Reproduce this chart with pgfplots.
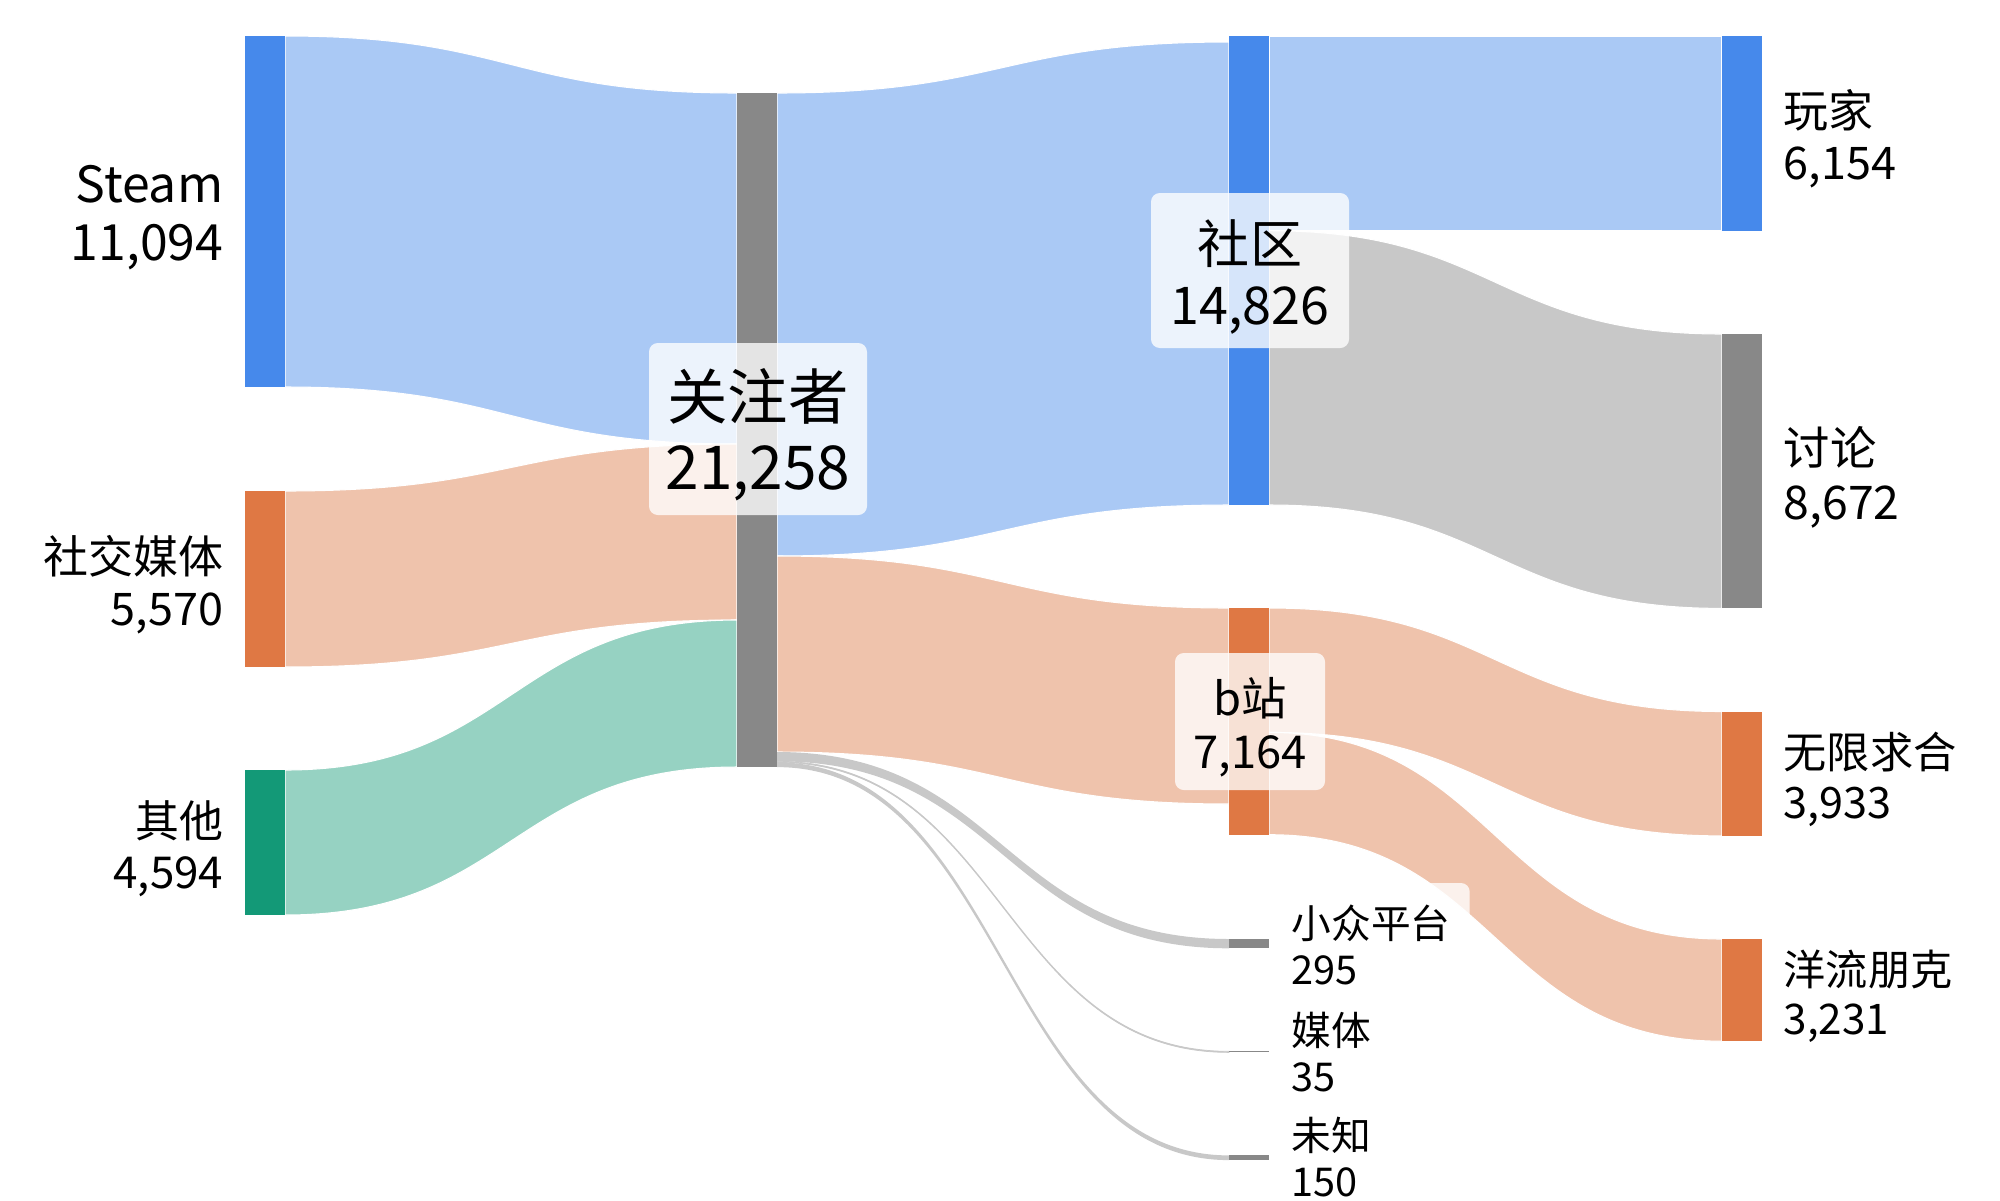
\documentclass[border=0pt]{standalone}
\usepackage{pgfplots}
\pgfplotsset{compat=1.18}
\usepackage{fontspec}
\setmainfont{Noto Sans CJK SC}
\definecolor{nblue}{HTML}{4689EB}
\definecolor{lblue}{HTML}{AAC9F5}
\definecolor{nora}{HTML}{DF7844}
\definecolor{lora}{HTML}{EFC3AC}
\definecolor{nteal}{HTML}{139977}
\definecolor{lteal}{HTML}{96D2C2}
\definecolor{ngray}{HTML}{888888}
\definecolor{lgray}{HTML}{C8C8C8}
% link: style, x0, top0, bottom0, x1, top1, bottom1, xmid
\newcommand{\link}[8]{%
  \fill[#1] (axis cs:#2,#3) .. controls (axis cs:#8,#3) and (axis cs:#8,#6) .. (axis cs:#5,#6)
    -- (axis cs:#5,#7) .. controls (axis cs:#8,#7) and (axis cs:#8,#4) .. (axis cs:#2,#4) -- cycle;}
\newcommand{\fs}[1]{\fontsize{#1pt}{1.16\dimexpr#1pt\relax}\selectfont}
\tikzset{
  band/.style={fill=#1, draw=white, line width=0.3pt},
  thin/.style={fill=#1, draw=none},
  hair/.style={fill=#1, draw=#1, line width=0.2pt},
  lbox/.style={fill=white, fill opacity=0.78, text opacity=1, rounded corners=2.5pt,
    inner sep=0pt},
  lab/.style={inner sep=0pt, align=center},
}
\begin{document}
\begin{tikzpicture}
\begin{axis}[width=20cm, height=12cm, scale only axis,
  xmin=0, xmax=2000, ymin=0, ymax=1200, y dir=reverse,
  hide axis, clip=false]
\addplot[draw=none, forget plot] coordinates {(0,0) (2000,1200)};
% ---- links: sources -> 关注者
\link{band=lblue}{285}{36}{387}{737}{93}{444}{511}
\link{band=lora}{285}{491}{667}{737}{444}{620}{511}
\link{band=lteal}{285}{770}{915}{737}{620}{767}{511}
% ---- 关注者 -> column 3
\link{band=lblue}{777}{93}{556}{1229}{42}{505}{1003}
\link{band=lora}{777}{556}{752}{1229}{608}{804}{1003}
\link{thin=lgray}{777}{752}{761.3}{1229}{939}{948.3}{1003}
\link{hair=lgray}{777}{761.3}{762.4}{1229}{1051.3}{1052.4}{1003}
\link{thin=lgray}{777}{762.4}{767.1}{1229}{1155.4}{1160.1}{1003}
% ---- column 3 -> column 4
\link{band=lblue}{1269}{36}{230.7}{1722}{36}{230.7}{1495.5}
\link{band=lgray}{1269}{230.7}{505}{1722}{334}{608.4}{1495.5}
\link{band=lora}{1269}{608}{732.4}{1722}{711.5}{835.9}{1495.5}
\link{band=lora}{1269}{732.4}{834.7}{1722}{939}{1041.2}{1495.5}
% ---- nodes
\addplot[fill=nblue, draw=none] coordinates {(245,36) (285,36) (285,387) (245,387)};
\addplot[fill=nora, draw=none] coordinates {(245,491) (285,491) (285,667) (245,667)};
\addplot[fill=nteal, draw=none] coordinates {(245,770) (285,770) (285,915) (245,915)};
\addplot[fill=ngray, draw=none] coordinates {(737,93) (777,93) (777,767) (737,767)};
\addplot[fill=nblue, draw=none] coordinates {(1229,36) (1269,36) (1269,505) (1229,505)};
\addplot[fill=nora, draw=none] coordinates {(1229,608) (1269,608) (1269,834.7) (1229,834.7)};
\addplot[fill=ngray, draw=none] coordinates {(1229,939) (1269,939) (1269,948.3) (1229,948.3)};
\addplot[fill=ngray, draw=none] coordinates {(1229,1051.3) (1269,1051.3) (1269,1052.4) (1229,1052.4)};
\addplot[fill=ngray, draw=none] coordinates {(1229,1155.4) (1269,1155.4) (1269,1160.1) (1229,1160.1)};
\addplot[fill=nblue, draw=none] coordinates {(1722,36) (1762,36) (1762,230.7) (1722,230.7)};
\addplot[fill=ngray, draw=none] coordinates {(1722,334) (1762,334) (1762,608.4) (1722,608.4)};
\addplot[fill=nora, draw=none] coordinates {(1722,711.5) (1762,711.5) (1762,835.9) (1722,835.9)};
\addplot[fill=nora, draw=none] coordinates {(1722,939) (1762,939) (1762,1041.2) (1722,1041.2)};
% ---- labels, left column
\node[anchor=east, inner sep=0pt, align=right, font=\fs{14.2}] at (axis cs:224,218) {Steam\\11,094};
\node[anchor=east, inner sep=0pt, align=right, font=\fs{12.8}] at (axis cs:224,585) {社交媒体\\5,570};
\node[anchor=east, inner sep=0pt, align=right, font=\fs{12.5}] at (axis cs:224,848.5) {其他\\4,594};
% ---- labels, middle with boxes
\node[lbox, minimum width=2.18cm, minimum height=1.72cm] at (axis cs:758,429) {};
\node[lab, font=\fs{17.2}] at (axis cs:758,435) {关注者\\21,258};
\node[lbox, minimum width=1.98cm, minimum height=1.55cm] at (axis cs:1250,270.5) {};
\node[lab, font=\fs{14.8}] at (axis cs:1250,277) {社区\\14,826};
\node[lbox, minimum width=1.50cm, minimum height=1.37cm] at (axis cs:1250,721.5) {};
\node[lab, font=\fs{12.9}] at (axis cs:1250,727.5) {b站\\7,164};
\node[lbox, anchor=west, minimum width=1.93cm, minimum height=1.26cm] at (axis cs:1276,946) {};
\node[anchor=west, inner sep=0pt, align=left, font=\fs{11.3}] at (axis cs:1291,944.5) {小众平台\\295};
\node[anchor=west, inner sep=0pt, align=left, font=\fs{11.3}] at (axis cs:1291,1052.5) {媒体\\35};
\node[anchor=west, inner sep=0pt, align=left, font=\fs{11.3}] at (axis cs:1291,1157.2) {未知\\150};
% ---- labels, right column
\node[anchor=west, inner sep=0pt, align=left, font=\fs{12.8}] at (axis cs:1783,139) {玩家\\6,154};
\node[anchor=west, inner sep=0pt, align=left, font=\fs{13.2}] at (axis cs:1783,477) {讨论\\8,672};
\node[anchor=west, inner sep=0pt, align=left, font=\fs{12.3}] at (axis cs:1783,779.7) {无限求合\\3,933};
\node[anchor=west, inner sep=0pt, align=left, font=\fs{12.0}] at (axis cs:1783,996) {洋流朋克\\3,231};
\end{axis}
\end{tikzpicture}
\end{document}
